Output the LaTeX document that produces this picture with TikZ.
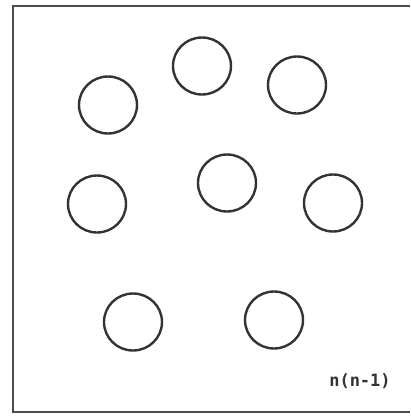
\documentclass[tikz,border=0pt]{standalone}
\usepackage{fontspec}
\setmonofont{DejaVu Sans Mono}
\usetikzlibrary{shapes.geometric}
\begin{document}
\begin{tikzpicture}[x=1pt,y=-1pt,
  ring/.style={draw=black!80,line width=2.4pt,ellipse,minimum width=58pt,minimum height=57pt,inner sep=0pt},
  frameline/.style={draw=black!70,line width=2pt},
  label/.style={font=\ttfamily\bfseries\fontsize{17}{19}\selectfont,text=black!80,inner sep=0pt}]
\useasboundingbox (0,0) rectangle (410,418);
\coordinate (tr) at (410,6);
\coordinate (tl) at (12.5,6);
\coordinate (bl) at (12.5,412);
\coordinate (br) at (410,412);
\draw[frameline] (tr) -- (tl) -- (bl) -- (br);
\node[ring] (c1) at (108,105) {};
\node[ring] (c2) at (202,66) {};
\node[ring] (c3) at (297,85) {};
\node[ring] (c4) at (97,204) {};
\node[ring] (c5) at (227,183) {};
\node[ring] (c6) at (333,203) {};
\node[ring] (c7) at (133,322) {};
\node[ring] (c8) at (274,320) {};
\node[label] (t) at (360,381) {n(n-1)};
\end{tikzpicture}
\end{document}
